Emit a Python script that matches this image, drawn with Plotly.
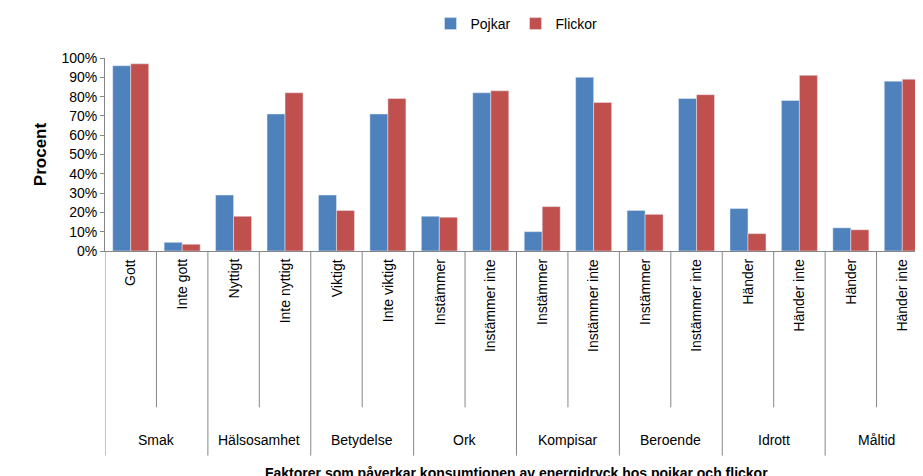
import plotly.graph_objects as go

groups = ["Smak", "Hälsosamhet", "Betydelse", "Ork", "Kompisar", "Beroende", "Idrott", "Måltid"]
labels = ["Gott", "Inte gott", "Nyttigt", "Inte nyttigt", "Viktigt", "Inte viktigt",
          "Instämmer", "Instämmer inte", "Instämmer", "Instämmer inte",
          "Instämmer", "Instämmer inte", "Händer", "Händer inte", "Händer", "Händer inte"]
pojkar = [0.96, 0.045, 0.29, 0.71, 0.29, 0.71, 0.18, 0.82, 0.10, 0.90, 0.21, 0.79, 0.22, 0.78, 0.12, 0.88]
flickor = [0.97, 0.035, 0.18, 0.82, 0.21, 0.79, 0.175, 0.83, 0.23, 0.77, 0.19, 0.81, 0.09, 0.91, 0.11, 0.89]

x = list(range(len(labels)))
font = "Liberation Sans"

fig = go.Figure()
fig.add_bar(x=x, y=pojkar, name="Pojkar", marker_color="#4F81BD")
fig.add_bar(x=x, y=flickor, name="Flickor", marker_color="#C0504D")

# category labels, rotated
for i, lab in enumerate(labels):
    fig.add_annotation(x=i, y=-0.03, xref="x", yref="paper", text=lab, textangle=-90,
                       showarrow=False, xanchor="center", yanchor="top",
                       font=dict(family=font, size=14, color="black"))
for g, name in enumerate(groups):
    fig.add_annotation(x=2 * g + 0.5, y=-0.98, xref="x", yref="paper", text=name,
                       showarrow=False, yanchor="middle",
                       font=dict(family=font, size=14, color="black"))

# separator lines
for i in range(len(labels) + 1):
    bottom = -1.06 if i % 2 == 0 else -0.81
    fig.add_shape(type="line", xref="x", yref="paper", x0=i - 0.5, x1=i - 0.5,
                  y0=0, y1=bottom, line=dict(color="#868686", width=1))

fig.add_annotation(x=0.5, y=-1.15, xref="paper", yref="paper",
                   text="<b>Faktorer som påverkar konsumtionen av energidryck hos pojkar och flickor</b>",
                   showarrow=False, yanchor="middle", font=dict(family=font, size=14, color="black"))

fig.update_layout(
    width=923, height=476,
    margin=dict(l=97, r=3, t=50, b=233, autoexpand=False),
    plot_bgcolor="white", paper_bgcolor="white",
    barmode="group", bargap=0.3, bargroupgap=0,
    font=dict(family=font, size=14, color="black"),
    legend=dict(orientation="h", x=0.5, xanchor="center", y=1.0, yref="container",
                yanchor="top", font=dict(size=14)),
    xaxis=dict(range=[-0.5, 15.5], showticklabels=False, showgrid=False,
               showline=True, linecolor="#868686", zeroline=False),
    yaxis=dict(range=[0, 1], tickformat=".0%", dtick=0.1, showgrid=False,
               showline=True, linecolor="#868686", ticks="outside", ticklen=4,
               tickcolor="#868686", zeroline=False,
               title=dict(text="<b>Procent</b>", standoff=10)),
)

fig.write_html("out.html")
